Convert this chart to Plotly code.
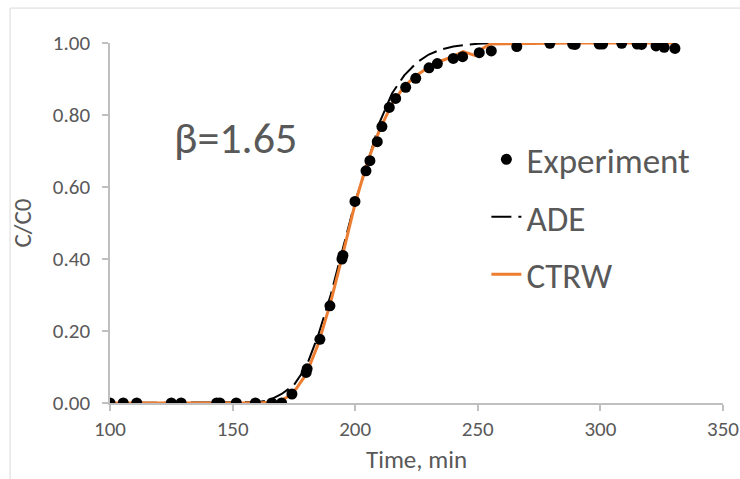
import plotly.graph_objects as go

# Experiment data (time in min, C/C0)
exp_time = [100, 105.4, 110.9, 125, 129, 143.5, 144.8, 151.5, 159.3, 166, 170,
            174.2, 180, 180.4, 185.6, 189.7, 194.6, 195, 199.9, 204.4, 206, 209,
            210.9, 213.9, 216.5, 220.6, 224.7, 230.1, 233.5, 240, 243.8, 250.6,
            255.5, 265.9, 279.4, 288.7, 289.7, 299.5, 300.9, 308.7, 315, 316.8,
            322.7, 326, 330.4]
exp_c = [0, 0, 0, 0, 0, 0, 0, 0, 0, 0, 0,
         0.025, 0.085, 0.095, 0.177, 0.27, 0.40, 0.41, 0.56, 0.645, 0.673, 0.726,
         0.768, 0.821, 0.846, 0.877, 0.902, 0.931, 0.943, 0.957, 0.962, 0.973,
         0.978, 0.99, 0.999, 0.997, 0.996, 0.997, 0.997, 0.999, 0.997, 0.996,
         0.992, 0.988, 0.985]

# ADE model curve
ade_time = [100, 160, 165, 170, 175, 180, 185, 190, 195, 200, 205, 210, 215,
            220, 225, 230, 235, 240, 245, 250, 260, 280, 330]
ade_c = [0, 0.002, 0.008, 0.025, 0.05, 0.1, 0.19, 0.3, 0.43, 0.56, 0.665, 0.78,
         0.86, 0.91, 0.945, 0.968, 0.982, 0.99, 0.995, 0.998, 1.0, 1.0, 1.0]

# CTRW model curve
ctrw_time = [100, 160, 168, 172, 176, 180, 185, 190, 195, 200, 205, 210, 215,
             220, 225, 230, 235, 240, 244, 249, 252, 255, 262, 270, 290, 310, 330]
ctrw_c = [0, 0, 0.003, 0.015, 0.04, 0.08, 0.165, 0.28, 0.415, 0.555, 0.67, 0.76,
          0.83, 0.88, 0.91, 0.933, 0.95, 0.963, 0.976, 0.965, 0.985, 0.997,
          0.998, 0.999, 1.0, 1.0, 1.0]

x_ticks = [100, 150, 200, 250, 300, 350]
y_ticks = [0, 0.2, 0.4, 0.6, 0.8, 1.0]

FONT = "Carlito, Calibri, Lato, sans-serif"
TXT = "#595959"
AXC = "#BFBFBF"

fig = go.Figure()
fig.add_trace(go.Scatter(x=ade_time, y=ade_c, mode="lines", name="ADE",
                         line=dict(color="black", width=2, dash="20px,7px"),
                         legendgroup="b", legendrank=2))
fig.add_trace(go.Scatter(x=ctrw_time, y=ctrw_c, mode="lines", name="CTRW",
                         line=dict(color="#ED7D31", width=3),
                         legendgroup="c", legendrank=3))
fig.add_trace(go.Scatter(x=exp_time, y=exp_c, mode="markers", name="Experiment",
                         marker=dict(color="black", size=11),
                         legendgroup="a", legendrank=1))

fig.add_annotation(text="β=1.65", x=0.204, y=0.735, xref="paper", yref="paper",
                   showarrow=False, font=dict(family=FONT, size=44, color=TXT),
                   xanchor="center", yanchor="middle")

fig.add_shape(type="rect", xref="paper", yref="paper",
              x0=-0.163, x1=1.05, y0=-0.26, y1=1.097,
              line=dict(color="#D9D9D9", width=1), layer="below")

fig.update_layout(
    width=740, height=479,
    margin=dict(l=110, r=17, t=43, b=76),
    plot_bgcolor="white", paper_bgcolor="white",
    font=dict(family=FONT, color=TXT, size=21),
    legend=dict(x=0.614, y=0.758, xanchor="left", yanchor="top",
                font=dict(size=35, color=TXT, family=FONT),
                traceorder="grouped", tracegroupgap=9,
                bgcolor="rgba(0,0,0,0)"),
    xaxis=dict(range=[100, 350], tickvals=x_ticks, showgrid=False, zeroline=False,
               automargin=False,
               showline=True, linecolor=AXC, linewidth=1.5,
               ticks="outside", ticklen=6, tickcolor=AXC, tickwidth=1.5,
               tickfont=dict(size=21, color=TXT, family=FONT),
               title=dict(text="Time, min", font=dict(size=25, color=TXT, family=FONT),
                          standoff=10)),
    yaxis=dict(range=[0, 1], tickvals=y_ticks, tickformat=".2f", showgrid=False,
               zeroline=False, showline=True, linecolor=AXC, linewidth=1.5,
               automargin=False, ticklabelstandoff=8,
               ticks="outside", ticklen=6, tickcolor=AXC, tickwidth=1.5,
               tickfont=dict(size=21, color=TXT, family=FONT),
               title=dict(text="C/C0", font=dict(size=25, color=TXT, family=FONT),
                          standoff=14)),
)

# remove the page's default 8px body margin so the 740x479 figure fills the window
fig.write_html("out.html",
               config={"displayModeBar": False},
               post_script="document.body.style.margin='0';document.body.style.overflow='hidden';")
